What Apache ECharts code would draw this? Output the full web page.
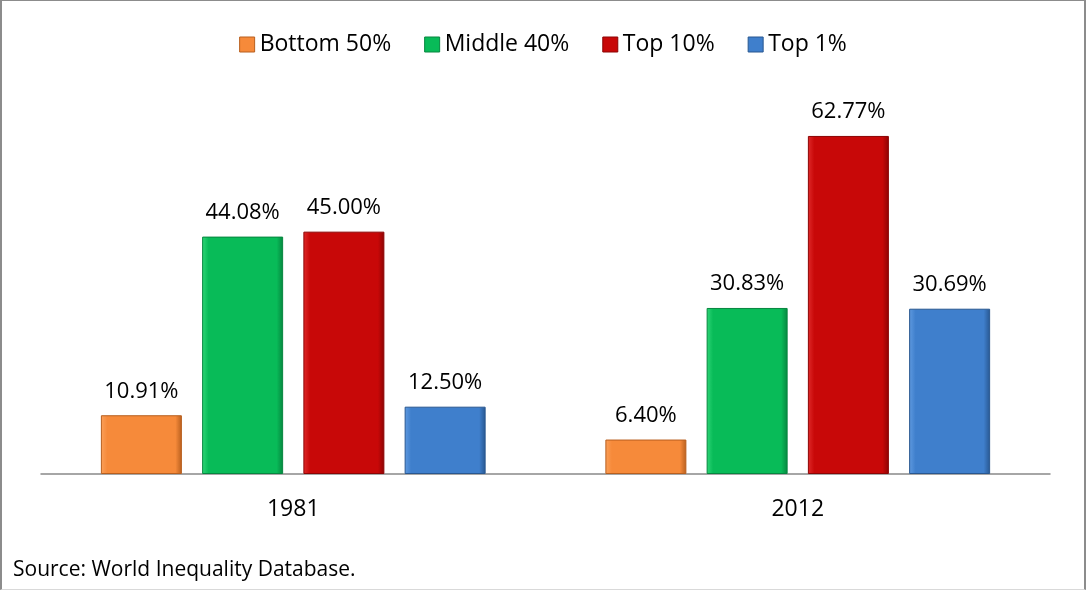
<!DOCTYPE html>
<html>
<head>
<meta charset="utf-8">
<script src="https://cdn.jsdelivr.net/npm/echarts@6/dist/echarts.min.js"></script>
<style>
  html, body { margin: 0; padding: 0; background: #fff; }
  #chart {
    width: 1082px; height: 588px;
    border-top: 1px solid #8c8c8c; border-left: 2px solid #8c8c8c;
    border-right: 2px solid #8c8c8c; border-bottom: 1px solid #d9d9d9;
  }
</style>
</head>
<body>
<div id="chart"></div>
<script>
const years = ['1981', '2012']
const seriesNames = ['Bottom 50%', 'Middle 40%', 'Top 10%', 'Top 1%']
const bottom50 = [10.91, 6.40]
const middle40 = [44.08, 30.83]
const top10 = [45.00, 62.77]
const top1 = [12.50, 30.69]
const sourceNote = 'Source: World Inequality Database.'

const palette = [
  { light: '#fba05a', main: '#f68a3a', dark: '#b85f1e' },
  { light: '#2fd677', main: '#08bb58', dark: '#06863f' },
  { light: '#e02a2a', main: '#c80808', dark: '#8c0404' },
  { light: '#5f9ae0', main: '#3f7fcc', dark: '#285790' }
]

// flat fill with slightly shaded edges to suggest the bevel
function barStyle(c) {
  return {
    color: {
      type: 'linear', x: 0, y: 0, x2: 1, y2: 0,
      colorStops: [
        { offset: 0, color: c.light },
        { offset: 0.08, color: c.main },
        { offset: 0.92, color: c.main },
        { offset: 1, color: c.dark }
      ]
    },
    borderColor: c.dark,
    borderWidth: 1
  }
}

const chart = echarts.init(document.getElementById('chart'))
const allValues = [bottom50, middle40, top10, top1]

chart.setOption({
  textStyle: { fontFamily: 'Open Sans, Noto Sans, sans-serif' },
  legend: {
    top: 27,
    left: 'center',
    itemWidth: 15,
    itemHeight: 15,
    itemGap: 33,
    textStyle: { fontSize: 23, color: '#000' },
    data: seriesNames.map((n, i) => ({ name: n, icon: 'rect', itemStyle: { color: palette[i].main, borderColor: palette[i].dark, borderWidth: 1 } }))
  },
  grid: { left: 39, right: 34, top: 96, bottom: 115 },
  xAxis: {
    type: 'category',
    data: years,
    axisLine: { lineStyle: { color: '#898989', width: 1.5 } },
    axisTick: { show: false },
    axisLabel: { fontSize: 23, color: '#000', margin: 24 }
  },
  yAxis: {
    type: 'value',
    min: 0,
    max: 70,
    show: false
  },
  series: seriesNames.map((name, i) => ({
    name: name,
    type: 'bar',
    data: allValues[i],
    barWidth: 81,
    barGap: '25%',
    itemStyle: barStyle(palette[i]),
    label: {
      show: true,
      position: 'top',
      distance: 13,
      fontSize: 22,
      color: '#000',
      formatter: p => p.value.toFixed(2) + '%'
    }
  })),
  graphic: [{
    type: 'text',
    left: 11,
    top: 559,
    style: { text: sourceNote, fontSize: 21, fill: '#000', fontFamily: 'Open Sans, Noto Sans, sans-serif' }
  }]
})
</script>
</body>
</html>
